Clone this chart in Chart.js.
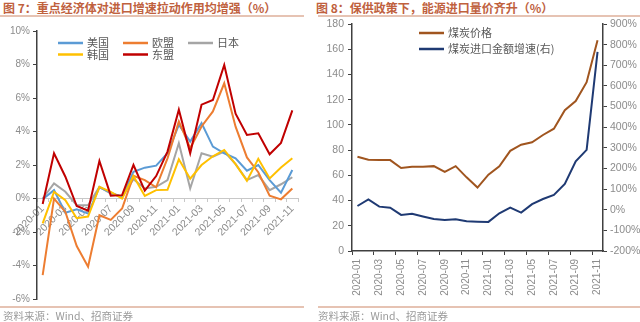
<!DOCTYPE html>
<html>
<head>
<meta charset="utf-8">
<script src="https://cdn.jsdelivr.net/npm/chart.js@4"></script>
<style>
  html, body { margin: 0; padding: 0; background: #fff; }
  body { width: 640px; height: 322px; position: relative; overflow: hidden; font-family: "Noto Sans CJK SC", sans-serif; }
  canvas { position: absolute; top: 0; }
  .title { position: absolute; top: 0; font-size: 12px; line-height: 15px; font-weight: bold; color: #c0613e; white-space: nowrap; }
  .rule { position: absolute; height: 2px; background: #e6c3b3; }
  .source { position: absolute; top: 308px; font-size: 10.5px; line-height: 15px; color: #9a9a9a; white-space: nowrap; }
</style>
</head>
<body>
<div class="title" style="left:3px">图 7：重点经济体对进口增速拉动作用均增强（%）</div>
<div class="rule" style="left:0;width:304px;top:15px"></div>
<div class="title" style="left:316px">图 8：保供政策下，能源进口量价齐升（%）</div>
<div class="rule" style="left:318px;width:322px;top:15px"></div>

<canvas id="left" width="305" height="322" style="left:0"></canvas>
<canvas id="right" width="320" height="322" style="left:320px"></canvas>

<div class="rule" style="left:0;width:304px;top:306px;height:1.5px"></div>
<div class="rule" style="left:318px;width:322px;top:306px;height:1.5px"></div>
<div class="source" style="left:3px">资料来源：Wind、招商证券</div>
<div class="source" style="left:318px">资料来源：Wind、招商证券</div>

<script>
// months shared by both charts
const months = ['2020-01', '2020-02', '2020-03', '2020-04', '2020-05', '2020-06', '2020-07', '2020-08',
  '2020-09', '2020-10', '2020-11', '2020-12', '2021-01', '2021-02', '2021-03', '2021-04', '2021-05',
  '2021-06', '2021-07', '2021-08', '2021-09', '2021-10', '2021-11']

// chart 7: import growth contribution (%)
const usa = [-0.05, 0.5, -0.85, -0.65, -0.9, 0.67, 0.35, 0.1, 1.6, 1.84, 1.96, 2.7, 4.4, 3.4, 4.5, 3.1, 2.7, 2.4, 1.66, 2.0, 1.1, 0.35, 1.7]
const eu = [-4.57, 0.0, -0.8, -2.84, -4.07, -1.0, -1.28, -0.6, 1.35, 1.1, 0.67, 2.4, 4.6, 3.0, 4.3, 5.2, 6.88, 4.29, 2.45, 1.57, 0.17, -0.05, 0.6]
const japan = [0.0, 0.9, 0.4, -0.4, -0.4, 0.7, 0.3, 0.1, 1.15, 0.6, 0.7, 1.1, 3.3, 0.6, 2.7, 2.5, 2.8, 2.05, 1.1, 1.4, 0.5, 0.85, 1.27]
const korea = [-1.48, 0.4, -0.1, -1.18, -1.08, 0.7, 0.4, 0.0, 1.34, 0.15, 0.5, 0.52, 2.34, 1.18, 2.0, 2.52, 2.9, 2.05, 1.05, 2.37, 1.2, 1.85, 2.4]
const asean = [-0.33, 2.7, 1.3, -0.45, -0.73, 2.24, 0.17, 0.2, 2.0, 0.47, 1.34, 2.8, 5.3, 2.7, 5.6, 5.88, 7.97, 5.06, 3.79, 3.89, 2.64, 3.32, 5.26]
const leftTicks = { min: -6, max: 10, step: 2 }

// chart 8: coal price and coal import value growth
const coalPrice = [74.7, 72.3, 72.1, 72.1, 65.8, 66.8, 66.8, 67.3, 62.8, 67.3, 58.4, 50.3, 60.5, 67.2, 79.4, 84.3, 86.2, 92.0, 97.0, 111.7, 118.9, 133.9, 167.2]
const coalImport = [18, 50, 15, 10, -25, -20, -33, -45, -50, -46, -56, -58, -59, -17, 10, -14, 27, 52, 72, 125, 234, 290, 765]
const priceTicks = { min: 0, max: 180, step: 20 }
const growthTicks = { min: -200, max: 900, step: 100 }

Chart.defaults.font.family = "'Liberation Sans', 'Noto Sans CJK SC', sans-serif"
Chart.defaults.color = '#8c8c8c'
Chart.defaults.animation = false

// legend drawn inside the plot, one spot per dataset
const spotLegend = {
  id: 'spotLegend',
  afterDraw(chart, args, opts) {
    const ctx = chart.ctx
    ctx.save()
    ctx.font = "11px 'Noto Sans CJK SC', sans-serif"
    ctx.textBaseline = 'middle'
    chart.data.datasets.forEach((ds, i) => {
      const [x, y] = opts.spots[i]
      ctx.strokeStyle = ds.borderColor
      ctx.lineWidth = 2.5
      ctx.beginPath()
      ctx.moveTo(x, y)
      ctx.lineTo(x + 25, y)
      ctx.stroke()
      ctx.fillStyle = '#595959'
      ctx.fillText(ds.label, x + 29, y)
    })
    ctx.restore()
  }
}

const evenLabel = (v, i) => i % 2 === 0 ? months[i] : ''

new Chart(document.getElementById('left'), {
  type: 'line',
  data: {
    labels: months,
    datasets: [
      { label: '美国', data: usa, borderColor: '#5b9bd5', order: 3 },
      { label: '欧盟', data: eu, borderColor: '#ed7d31', order: 2 },
      { label: '日本', data: japan, borderColor: '#a5a5a5', order: 4 },
      { label: '韩国', data: korea, borderColor: '#ffc000', order: 1 },
      { label: '东盟', data: asean, borderColor: '#c00000', order: 0 },
    ]
  },
  options: {
    responsive: false,
    elements: { point: { radius: 0 }, line: { borderWidth: 2, tension: 0 } },
    layout: { padding: { top: 31, bottom: 23, left: 0, right: 7 } },
    plugins: {
      legend: { display: false },
      tooltip: { enabled: false },
      spotLegend: { spots: [[58, 43], [123, 43], [188, 43], [58, 54.5], [123, 54.5]] }
    },
    scales: {
      x: {
        position: { y: 0 },
        offset: true,
        border: { color: '#c8c8c8' },
        grid: { drawOnChartArea: false, offset: true, tickLength: 3, color: '#c8c8c8' },
        ticks: { autoSkip: false, minRotation: 45, maxRotation: 45, padding: 1, font: { size: 10.5 }, callback: evenLabel }
      },
      y: {
        min: leftTicks.min,
        max: leftTicks.max,
        afterFit(scale) { scale.width = 37 },
        border: { color: '#404040', width: 1.5 },
        grid: { drawOnChartArea: false, tickLength: 4, color: '#404040' },
        ticks: { stepSize: leftTicks.step, padding: 3, font: { size: 10 }, callback: v => v + '%' }
      }
    }
  },
  plugins: [spotLegend]
})

new Chart(document.getElementById('right'), {
  type: 'line',
  data: {
    labels: months,
    datasets: [
      { label: '煤炭价格', data: coalPrice, borderColor: '#a0551f', yAxisID: 'y' },
      { label: '煤炭进口金额增速(右)', data: coalImport, borderColor: '#1f3a73', yAxisID: 'y2' },
    ]
  },
  options: {
    responsive: false,
    elements: { point: { radius: 0 }, line: { borderWidth: 2, tension: 0 } },
    layout: { padding: { top: 24, bottom: 0, left: 0, right: 0 } },
    plugins: {
      legend: { display: false },
      tooltip: { enabled: false },
      spotLegend: { spots: [[99, 33], [99, 49]] }
    },
    scales: {
      x: {
        offset: true,
        afterFit(scale) { scale.height = 71 },
        border: { color: '#404040', width: 1.5 },
        grid: {
          drawOnChartArea: false, offset: true, tickLength: 4,
          tickColor: c => c.index % 2 === 0 ? '#404040' : 'rgba(0,0,0,0)'
        },
        ticks: { autoSkip: false, minRotation: 90, maxRotation: 90, padding: 4, font: { size: 10 }, callback: evenLabel }
      },
      y: {
        position: 'left',
        min: priceTicks.min,
        max: priceTicks.max,
        afterFit(scale) { scale.width = 32 },
        border: { color: '#404040', width: 1.5 },
        grid: { drawOnChartArea: false, tickLength: 4, color: '#404040' },
        ticks: { stepSize: priceTicks.step, padding: 4, font: { size: 10.5 } }
      },
      y2: {
        position: 'right',
        min: growthTicks.min,
        max: growthTicks.max,
        afterFit(scale) { scale.width = 37 },
        border: { color: '#404040', width: 1.5 },
        grid: { drawOnChartArea: false, tickLength: 4, color: '#404040' },
        ticks: { stepSize: growthTicks.step, padding: 3, font: { size: 10.5 }, callback: v => v + '%' }
      }
    }
  },
  plugins: [spotLegend]
})
</script>
</body>
</html>
